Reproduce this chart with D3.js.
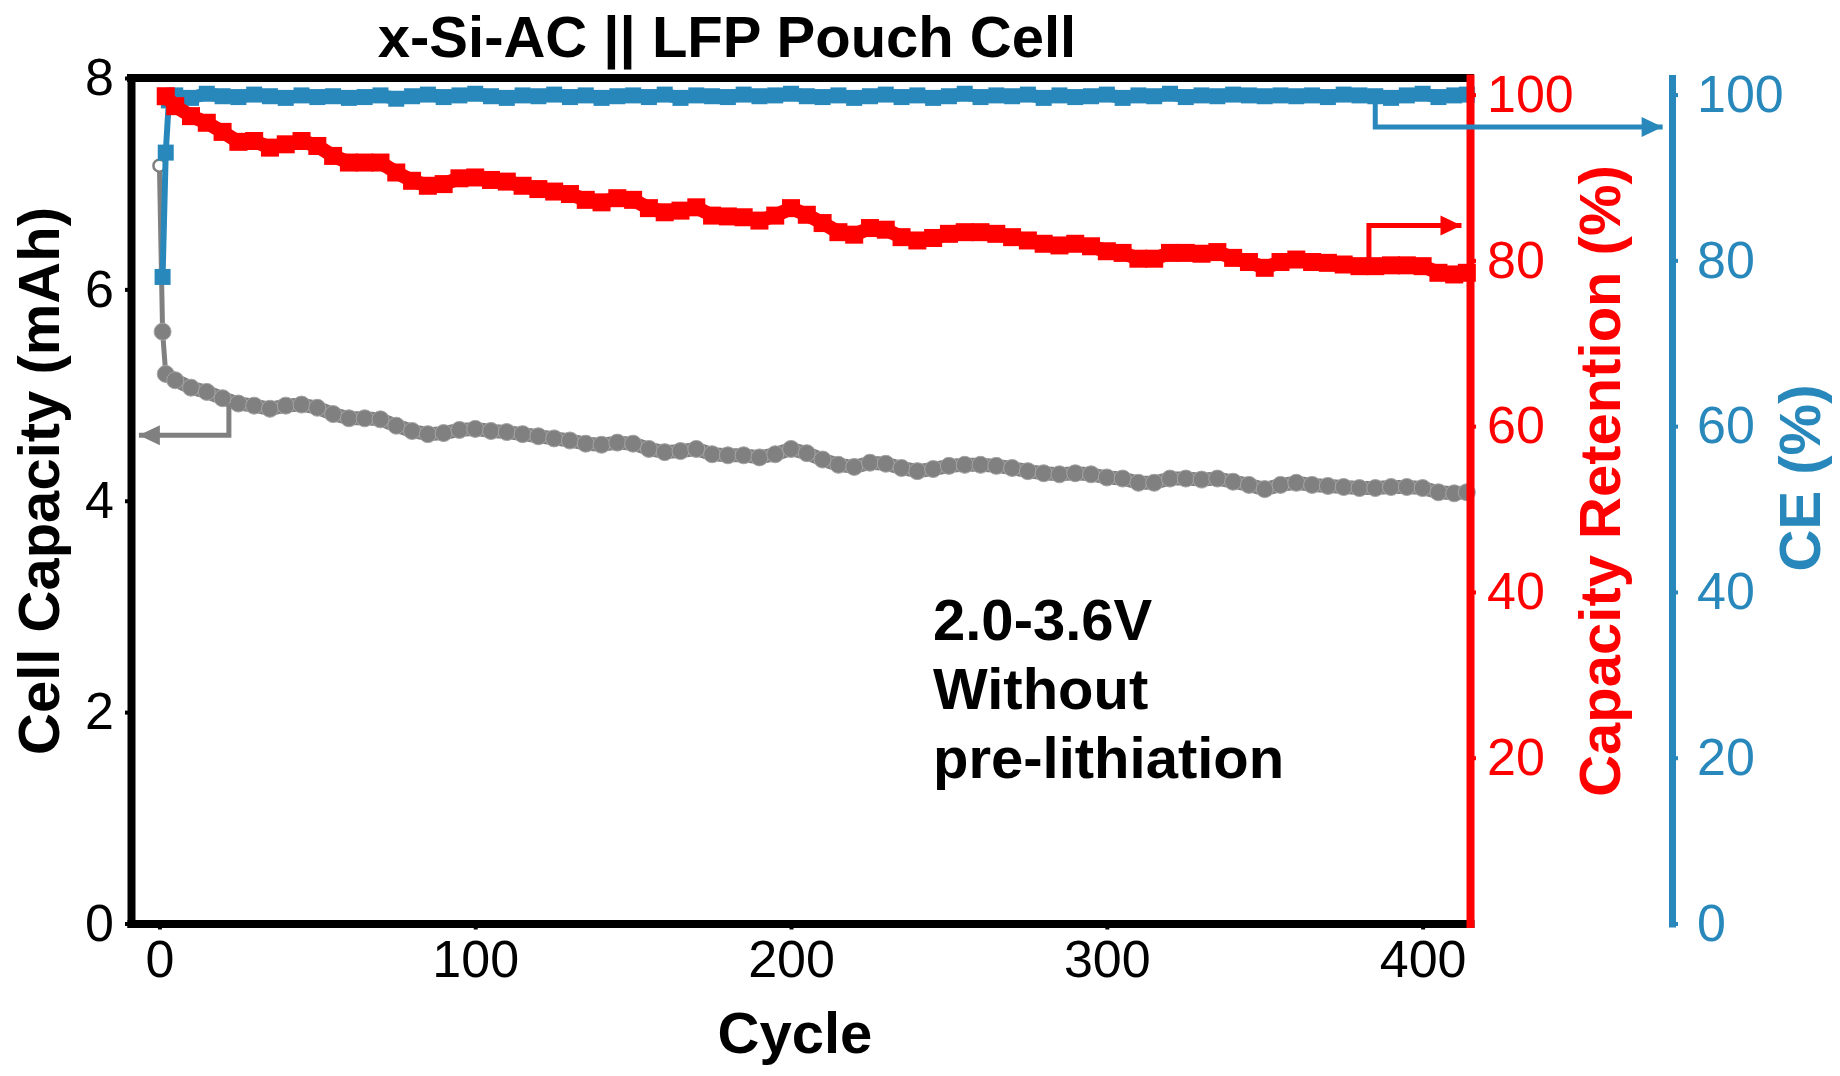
<!DOCTYPE html>
<html><head><meta charset="utf-8">
<script src="https://cdn.jsdelivr.net/npm/d3@7"></script>
<style>
body{margin:0;background:#fff;}
svg{display:block;}
text{font-family:"Liberation Sans",Arial,Helvetica,sans-serif;}
</style></head><body>
<svg id="c" width="1840" height="1076"></svg>
<script>
// ---------------- data ----------------
const cycles = [5,10,15,20,25,30,35,40,45,50,55,60,65,70,75,80,85,90,95,100,105,110,115,120,125,130,135,140,145,150,155,160,165,170,175,180,185,190,195,200,205,210,215,220,225,230,235,240,245,250,255,260,265,270,275,280,285,290,295,300,305,310,315,320,325,330,335,340,345,350,355,360,365,370,375,380,385,390,395,400,405,410,414];

const capStartCycles = [0,1,2];
const capStart = [7.17,5.60,5.20];
const capacity = [5.14,5.07,5.03,4.97,4.92,4.90,4.87,4.90,4.91,4.88,
  4.82,4.78,4.78,4.77,4.71,4.66,4.63,4.64,4.67,4.68,
  4.66,4.65,4.63,4.61,4.59,4.57,4.54,4.53,4.55,4.54,
  4.49,4.46,4.47,4.49,4.44,4.43,4.43,4.41,4.44,4.49,
  4.45,4.39,4.34,4.32,4.36,4.35,4.31,4.28,4.30,4.33,
  4.34,4.34,4.33,4.31,4.28,4.26,4.25,4.26,4.25,4.22,
  4.21,4.17,4.17,4.21,4.21,4.20,4.21,4.18,4.15,4.11,
  4.15,4.17,4.15,4.14,4.13,4.12,4.12,4.13,4.13,4.12,
  4.08,4.07,4.08];

const retStartCycles = [2];
const retStart = [99.8];
const retention = [98.6,97.4,96.6,95.5,94.3,94.4,93.6,94.0,94.4,93.8,
  92.6,91.8,91.8,91.8,90.6,89.6,89.0,89.2,89.9,90.0,
  89.7,89.5,89.0,88.6,88.3,88.0,87.3,87.0,87.5,87.3,
  86.3,85.8,86.0,86.4,85.4,85.3,85.2,84.8,85.4,86.3,
  85.5,84.5,83.4,83.1,83.9,83.7,82.8,82.4,82.7,83.2,
  83.4,83.4,83.2,82.8,82.4,82.0,81.8,82.0,81.7,81.1,
  80.9,80.2,80.2,80.9,80.9,80.8,81.0,80.3,79.8,79.1,
  79.8,80.1,79.8,79.7,79.5,79.3,79.3,79.4,79.4,79.3,
  78.5,78.3,78.5];

const ceStartCycles = [1,2,3];
const ceStart = [78.0,93.0,99.3];
const ce = [99.9,99.6,100.1,99.8,99.7,100.0,99.8,99.6,99.9,99.7,
  99.8,99.6,99.7,99.9,99.5,99.8,100.0,99.7,99.9,100.1,
  99.8,99.6,99.9,99.8,100.0,99.7,99.9,99.6,99.8,99.9,
  99.7,100.0,99.6,99.9,99.8,99.7,100.0,99.8,99.9,100.1,
  99.8,99.7,99.9,99.6,99.8,100.0,99.7,99.9,99.6,99.8,
  100.1,99.7,99.9,99.8,100.0,99.6,99.9,99.7,99.8,100.0,
  99.6,99.9,99.8,100.1,99.7,99.9,99.8,100.0,99.9,99.8,
  99.9,99.8,99.9,99.7,100.0,99.9,99.8,99.6,99.9,100.1,
  99.7,99.9,100.0];

const xTicks = [0,100,200,300,400];
const capTicks = [0,2,4,6,8];
const retTicks = [20,40,60,80,100];
const ceTicks = [0,20,40,60,80,100];

const title = "x-Si-AC || LFP Pouch Cell";
const xLabel = "Cycle";
const capLabel = "Cell Capacity (mAh)";
const retLabel = "Capacity Retention (%)";
const ceLabel = "CE (%)";
const noteLines = ["2.0-3.6V","Without","pre-lithiation"];

// ---------------- drawing ----------------
const RED = "#ff0000", BLUE = "#2988bb", GRAY = "#808080";
const svg = d3.select("#c");
const L = 131, R = 1470, T = 78, B = 923.5, CEX = 1672;

const x = d3.scaleLinear().domain([-9, 415]).range([L, R]);
const yCap = d3.scaleLinear().domain([0, 8]).range([B, T]);
const yRet = d3.scaleLinear().domain([0, 102]).range([B, T]);
const yCE = d3.scaleLinear().domain([0, 102]).range([B, T]);

const zip = (xs, ys) => xs.map((c, i) => [c, ys[i]]);
const capData = zip(capStartCycles.concat(cycles), capStart.concat(capacity));
const retData = zip(retStartCycles.concat(cycles), retStart.concat(retention));
const ceData = zip(ceStartCycles.concat(cycles), ceStart.concat(ce));

// gray capacity
const gCap = svg.append("g");
const capLine = d3.line().x(d => x(d[0])).y(d => yCap(d[1]));
gCap.append("path").datum(capData).attr("d", capLine)
  .attr("fill", "none").attr("stroke", GRAY).attr("stroke-width", 5);
gCap.append("path").datum(capData.slice(2)).attr("d", capLine)
  .attr("fill", "none").attr("stroke", GRAY).attr("stroke-width", 14).attr("stroke-linejoin", "round");
gCap.selectAll("circle").data(capData).join("circle")
  .attr("cx", d => x(d[0])).attr("cy", d => yCap(d[1])).attr("r", (d, i) => i === 0 ? 6 : 8.5)
  .attr("fill", (d, i) => i === 0 ? "#fff" : GRAY)
  .attr("stroke", (d, i) => i === 0 ? GRAY : "#a4a4a4").attr("stroke-width", (d, i) => i === 0 ? 2.5 : 1);

// blue CE
const gCE = svg.append("g");
const ceLine = d3.line().x(d => x(d[0])).y(d => yCE(d[1]));
gCE.append("path").datum(ceData).attr("d", ceLine)
  .attr("fill", "none").attr("stroke", BLUE).attr("stroke-width", 6);
gCE.append("path").datum(ceData.slice(2)).attr("d", ceLine)
  .attr("fill", "none").attr("stroke", BLUE).attr("stroke-width", 13);
gCE.selectAll("rect").data(ceData).join("rect")
  .attr("x", d => x(d[0]) - 8).attr("y", d => yCE(d[1]) - 8)
  .attr("width", 16).attr("height", 16).attr("fill", BLUE);

// red retention
const gRet = svg.append("g");
gRet.append("path").datum(retData)
  .attr("d", d3.line().x(d => x(d[0])).y(d => yRet(d[1])))
  .attr("fill", "none").attr("stroke", RED).attr("stroke-width", 14);
gRet.selectAll("rect").data(retData).join("rect")
  .attr("x", d => x(d[0]) - 9).attr("y", d => yRet(d[1]) - 9)
  .attr("width", 18).attr("height", 18).attr("fill", RED);

// frame / axes
function styleAxis(g, color, w, fs) {
  g.select(".domain").attr("stroke", color).attr("stroke-width", w).attr("stroke-linecap", "square");
  g.selectAll(".tick line").attr("stroke", color).attr("stroke-width", 4);
  g.selectAll(".tick text").attr("fill", color).style("font-size", fs + "px")
    .style("font-family", '"Liberation Sans",Arial,sans-serif');
}
// top border
svg.append("line").attr("x1", L).attr("x2", R).attr("y1", T).attr("y2", T)
  .attr("stroke", "#000").attr("stroke-width", 8).attr("stroke-linecap", "square");

const axX = svg.append("g").attr("transform", `translate(0,${B})`)
  .call(d3.axisBottom(x).tickValues(xTicks).tickSize(6).tickSizeOuter(0).tickPadding(11));
styleAxis(axX, "#000", 8, 52);

const axL = svg.append("g").attr("transform", `translate(${L},0)`)
  .call(d3.axisLeft(yCap).tickValues(capTicks).tickSize(6).tickSizeOuter(0).tickPadding(11));
styleAxis(axL, "#000", 8, 52);

const axR = svg.append("g").attr("transform", `translate(${R},0)`)
  .call(d3.axisRight(yRet).tickValues(retTicks).tickSize(6).tickSizeOuter(0).tickPadding(11));
styleAxis(axR, RED, 8, 52);

const axCE = svg.append("g").attr("transform", `translate(${CEX},0)`)
  .call(d3.axisRight(yCE).tickValues(ceTicks).tickSize(6).tickSizeOuter(0).tickPadding(19));
styleAxis(axCE, BLUE, 7, 52);

// titles
const bold = sel => sel.style("font-weight", "bold").style("font-size", "58px");
bold(svg.append("text").attr("x", 727).attr("y", 57).attr("text-anchor", "middle").text(title));
bold(svg.append("text").attr("x", 795).attr("y", 1053).attr("text-anchor", "middle").text(xLabel));
bold(svg.append("text").attr("transform", "translate(59,481) rotate(-90)").attr("text-anchor", "middle").text(capLabel));
bold(svg.append("text").attr("transform", "translate(1620,481) rotate(-90)").attr("text-anchor", "middle").attr("fill", RED).text(retLabel));
bold(svg.append("text").attr("transform", "translate(1820,478) rotate(-90)").attr("text-anchor", "middle").attr("fill", BLUE).text(ceLabel));

// annotation text
const note = svg.append("text").attr("x", 933).attr("y", 640);
bold(note);
note.selectAll("tspan").data(noteLines).join("tspan")
  .attr("x", 933).attr("dy", (d, i) => i === 0 ? 0 : 69).text(d => d);

// arrows
function arrow(points, color, dir) {
  svg.append("path").attr("d", d3.line()(points))
    .attr("fill", "none").attr("stroke", color).attr("stroke-width", 5);
  const [tx, ty] = points[points.length - 1];
  const hl = 21, hw = 10;
  const s = dir === "left" ? 1 : -1;
  svg.append("path")
    .attr("d", `M${tx},${ty} L${tx + s * hl},${ty - hw} L${tx + s * hl},${ty + hw} Z`)
    .attr("fill", color);
}
arrow([[x(22), yCap(4.92)], [x(22), yCap(4.62)], [x(-6.5), yCap(4.62)]], GRAY, "left");
arrow([[x(383), yRet(79.3)], [x(383), yRet(84.2)], [x(412.3), yRet(84.2)]], RED, "right");
arrow([[x(385), yCE(99.7)], [x(385), yCE(96.1)], [x(476), yCE(96.1)]], BLUE, "right");
</script>
</body></html>
